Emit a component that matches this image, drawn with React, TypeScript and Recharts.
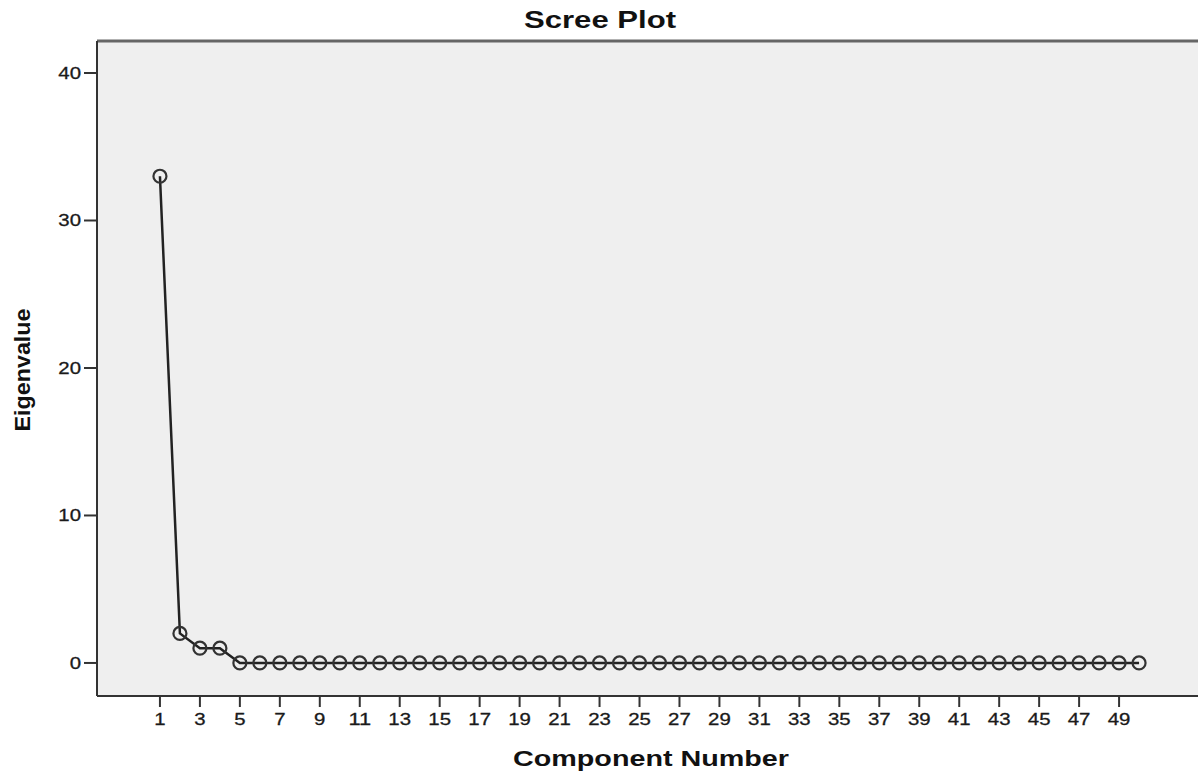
import React from 'react';
import { LineChart, Line, XAxis, YAxis, CartesianGrid, Label, ReferenceLine } from 'recharts';

// eigenvalue per component
const components = Array.from({ length: 50 }, (_, i) => i + 1);
const eigenvalues = [
  33, 2, 1, 1, 0, 0, 0, 0, 0, 0,
  0, 0, 0, 0, 0, 0, 0, 0, 0, 0,
  0, 0, 0, 0, 0, 0, 0, 0, 0, 0,
  0, 0, 0, 0, 0, 0, 0, 0, 0, 0,
  0, 0, 0, 0, 0, 0, 0, 0, 0, 0,
];
const xTicks = [1, 3, 5, 7, 9, 11, 13, 15, 17, 19, 21, 23, 25, 27, 29, 31, 33, 35, 37, 39, 41, 43, 45, 47, 49];
const yTicks = [0, 10, 20, 30, 40];

const data = components.map((c, i) => ({ component: c, value: eigenvalues[i] }));

const FONT = '"Liberation Sans", Arial, sans-serif';
const X_DOMAIN: [number, number] = [-2.15, 52.95];
const Y_DOMAIN: [number, number] = [-2.24, 42.17];

// the source image is stretched horizontally, so text is widened with textLength
const stretch = (s: string, fs: number, k: number) => s.length * 0.556 * fs * k;

const XTick = (props: any) => {
  const { x, y, payload } = props;
  const s = String(payload.value);
  return (
    <text x={x} y={y + 16} textAnchor="middle" fontFamily={FONT} fontSize={17} fill="#1a1a1a"
      stroke="#1a1a1a" strokeWidth={0.3}
      textLength={stretch(s, 17, 1.2)} lengthAdjust="spacingAndGlyphs">
      {s}
    </text>
  );
};

const YTick = (props: any) => {
  const { x, y, payload } = props;
  const s = String(payload.value);
  return (
    <text x={x - 1} y={y + 6} textAnchor="end" fontFamily={FONT} fontSize={17} fill="#1a1a1a"
      stroke="#1a1a1a" strokeWidth={0.3}
      textLength={stretch(s, 17, 1.2)} lengthAdjust="spacingAndGlyphs">
      {s}
    </text>
  );
};

export default function App() {
  return (
    <div style={{ position: 'absolute', left: 0, top: 0, background: '#fff' }}>
      <svg width={1198} height={40} style={{ position: 'absolute', left: 0, top: 0 }}>
        <text x={600} y={28} textAnchor="middle" fontFamily={FONT} fontWeight="bold" fontSize={23}
          fill="#111" textLength={152} lengthAdjust="spacingAndGlyphs">
          Scree Plot
        </text>
      </svg>
      <LineChart width={1198} height={772} data={data} margin={{ top: 41, right: 0, bottom: 0, left: 0 }}>
        <CartesianGrid fill="#efefef" stroke="none" horizontal={false} vertical={false} />
        <XAxis
          dataKey="component"
          type="number"
          domain={X_DOMAIN}
          ticks={xTicks}
          allowDataOverflow
          height={76}
          tickSize={11}
          axisLine={{ stroke: '#333', strokeWidth: 2 }}
          tickLine={{ stroke: '#333', strokeWidth: 2 }}
          tick={<XTick />}
        >
          <Label
            content={() => (
              <text x={651} y={766} textAnchor="middle" fontFamily={FONT} fontWeight="bold" fontSize={22}
                fill="#111" textLength={276} lengthAdjust="spacingAndGlyphs">
                Component Number
              </text>
            )}
          />
        </XAxis>
        <YAxis
          type="number"
          domain={Y_DOMAIN}
          ticks={yTicks}
          allowDataOverflow
          width={97}
          tickSize={13}
          axisLine={{ stroke: '#333', strokeWidth: 2 }}
          tickLine={{ stroke: '#333', strokeWidth: 2 }}
          tick={<YTick />}
        >
          <Label
            content={() => (
              <text x={30} y={370} textAnchor="middle" fontFamily={FONT} fontWeight="bold" fontSize={22}
                fill="#111" transform="rotate(-90 30 370)" textLength={123} lengthAdjust="spacingAndGlyphs">
                Eigenvalue
              </text>
            )}
          />
        </YAxis>
        <ReferenceLine y={Y_DOMAIN[1]} stroke="#666" strokeWidth={3} ifOverflow="visible" />
        <Line
          type="linear"
          dataKey="value"
          stroke="#222"
          strokeWidth={2.5}
          isAnimationActive={false}
          dot={{ r: 6.5, stroke: '#333', strokeWidth: 2.2, fill: 'none' }}
          activeDot={false}
        />
      </LineChart>
    </div>
  );
}
